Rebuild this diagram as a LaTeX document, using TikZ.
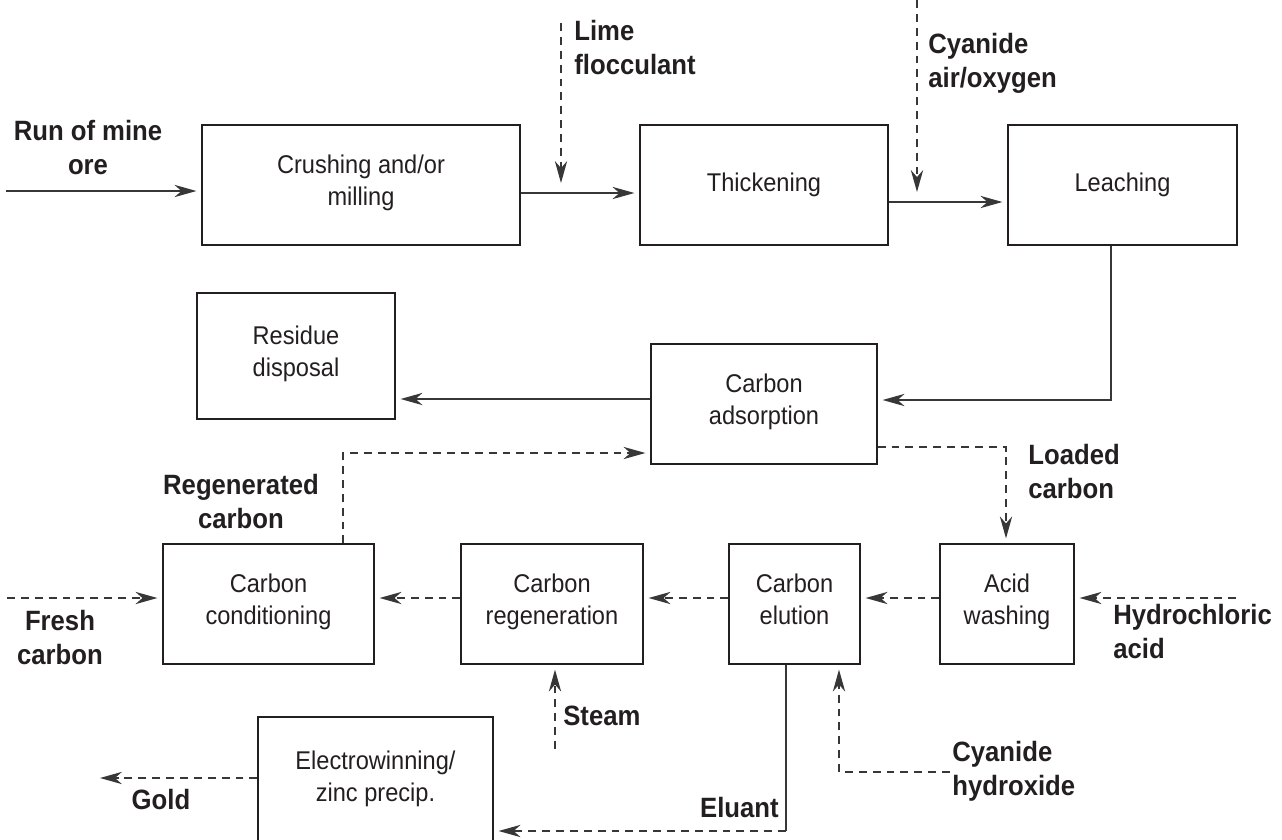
\documentclass[tikz,border=0pt]{standalone}
\usepackage{fontspec}
\setmainfont{Liberation Sans}[FakeStretch=0.92]
\usetikzlibrary{arrows.meta}
\definecolor{ink}{RGB}{35,31,32}
\definecolor{linec}{RGB}{55,55,55}
\newcommand\boxfont{\fontsize{14.6pt}{18.4pt}\selectfont}
\newcommand\lblfont{\fontsize{15.9pt}{19.8pt}\selectfont\bfseries}
\newcommand\twol[3]{\begin{tabular}[t]{@{}#1@{}}#2\\#3\end{tabular}}
\begin{document}
\begin{tikzpicture}[x=0.02cm,y=-0.02cm,
  every node/.style={text=ink},
  box/.style={draw=ink, line width=0.8pt, inner sep=0pt, align=center, font=\boxfont,
    execute at begin node=\strut, execute at end node=\strut},
  lbl/.style={inner sep=0pt, font=\lblfont},
  conn/.style={draw=linec, line width=0.85pt},
  arr/.style={conn, -{Stealth[length=12.5pt,width=7pt,inset=4pt]}},
  darr/.style={arr, dash pattern=on 4.5pt off 3.4pt},
  gap/.style={shorten >=2.8pt}]
\useasboundingbox (0,0) rectangle (1282,839);

% boxes
\node[box, minimum width=6.36cm, minimum height=2.4cm] (crush) at (361,185) {Crushing and/or\\milling};
\node[box, minimum width=4.96cm, minimum height=2.4cm] (thick) at (764,185) {Thickening};
\node[box, minimum width=4.58cm, minimum height=2.4cm] (leach) at (1122.5,185) {Leaching};
\node[box, minimum width=3.96cm, minimum height=2.52cm] (resid) at (296,356) {Residue\\disposal};
\node[box, minimum width=4.52cm, minimum height=2.4cm] (adsorb) at (764,404) {Carbon\\adsorption};
\node[box, minimum width=4.22cm, minimum height=2.4cm] (cond) at (268.5,604) {Carbon\\conditioning};
\node[box, minimum width=3.64cm, minimum height=2.4cm] (regen) at (552,604) {Carbon\\regeneration};
\node[box, minimum width=2.62cm, minimum height=2.4cm] (elut) at (794.5,604) {Carbon\\elution};
\node[box, minimum width=2.68cm, minimum height=2.4cm] (acid) at (1007,604) {Acid\\washing};
\node[box, minimum width=4.7cm, minimum height=2.56cm] (elec) at (375.5,781) {Electrowinning/\\zinc precip.};

% free ends
\coordinate (orein) at (6,191);
\coordinate (lime) at (561,23);
\coordinate (limeend) at (561,183);
\coordinate (cyan) at (917,0);
\coordinate (cyanend) at (917,192);
\coordinate (fresh) at (7,598);
\coordinate (hcl) at (1236,598);
\coordinate (steam) at (555,749);
\coordinate (cyhy) at (950,772);
\coordinate (cyhyturn) at (839,772);
\coordinate (leachturn) at (1111,400);
\coordinate (regturn) at (343,453);
\coordinate (loadturn) at (1006,447);
\coordinate (eluturn) at (786,831);
\coordinate (goldend) at (100,778);

% connectors
\draw[arr, gap] (orein) -- (orein -| crush.west);
\draw[arr, gap] (crush.east |- 0,193) -- (thick.west |- 0,193);
\draw[darr] (lime) -- (limeend);
\draw[darr] (cyan) -- (cyanend);
\draw[arr, gap] (thick.east |- 0,202) -- (leach.west |- 0,202);
\draw[arr, gap] (leach.south -| leachturn) -- (leachturn) -- (adsorb.east |- leachturn);
\draw[arr, gap] (adsorb.west |- 0,399) -- (resid.east |- 0,399);
\draw[darr, gap] (cond.north -| regturn) -- (regturn) -- (adsorb.west |- regturn);
\draw[darr, gap] (adsorb.east |- loadturn) -- (loadturn) -- (acid.north -| loadturn);
\draw[darr, gap] (fresh) -- (fresh -| cond.west);
\draw[darr, gap] (regen.west |- 0,598) -- (cond.east |- 0,598);
\draw[darr, gap] (elut.west |- 0,598) -- (regen.east |- 0,598);
\draw[darr, gap] (acid.west |- 0,598) -- (elut.east |- 0,598);
\draw[darr, gap] (hcl) -- (hcl -| acid.east);
\draw[darr, gap] (steam) -- (steam |- regen.south);
\draw[darr, gap] (cyhy) -- (cyhyturn) -- (elut.south -| cyhyturn);
\draw[conn] (elut.south -| eluturn) -- (eluturn);
\draw[darr, gap] (eluturn) -- (elec.east |- eluturn);
\draw[darr] (elec.west |- goldend) -- (goldend);

% labels
\node[lbl, anchor=base] (l-ore) at (88,140) {\twol{c}{Run of mine}{ore}};
\node[lbl, anchor=base west] (l-lime) at (574,40) {\twol{l}{Lime}{flocculant}};
\node[lbl, anchor=base west] (l-cyan) at (928,53) {\twol{l}{Cyanide}{air/oxygen}};
\node[lbl, anchor=base] (l-regen) at (241,494) {\twol{c}{Regenerated}{carbon}};
\node[lbl, anchor=base west] (l-load) at (1028,464) {\twol{l}{Loaded}{carbon}};
\node[lbl, anchor=base] (l-fresh) at (60,630) {\twol{c}{Fresh}{carbon}};
\node[lbl, anchor=base west] (l-hcl) at (1113,624) {\twol{l}{Hydrochloric}{acid}};
\node[lbl, anchor=base west] (l-steam) at (563,725) {Steam};
\node[lbl, anchor=base west] (l-cyhy) at (952,761) {\twol{l}{Cyanide}{hydroxide}};
\node[lbl, anchor=base east] (l-eluant) at (779,817) {Eluant};
\node[lbl, anchor=base] (l-gold) at (161,809) {Gold};
\end{tikzpicture}
\end{document}
